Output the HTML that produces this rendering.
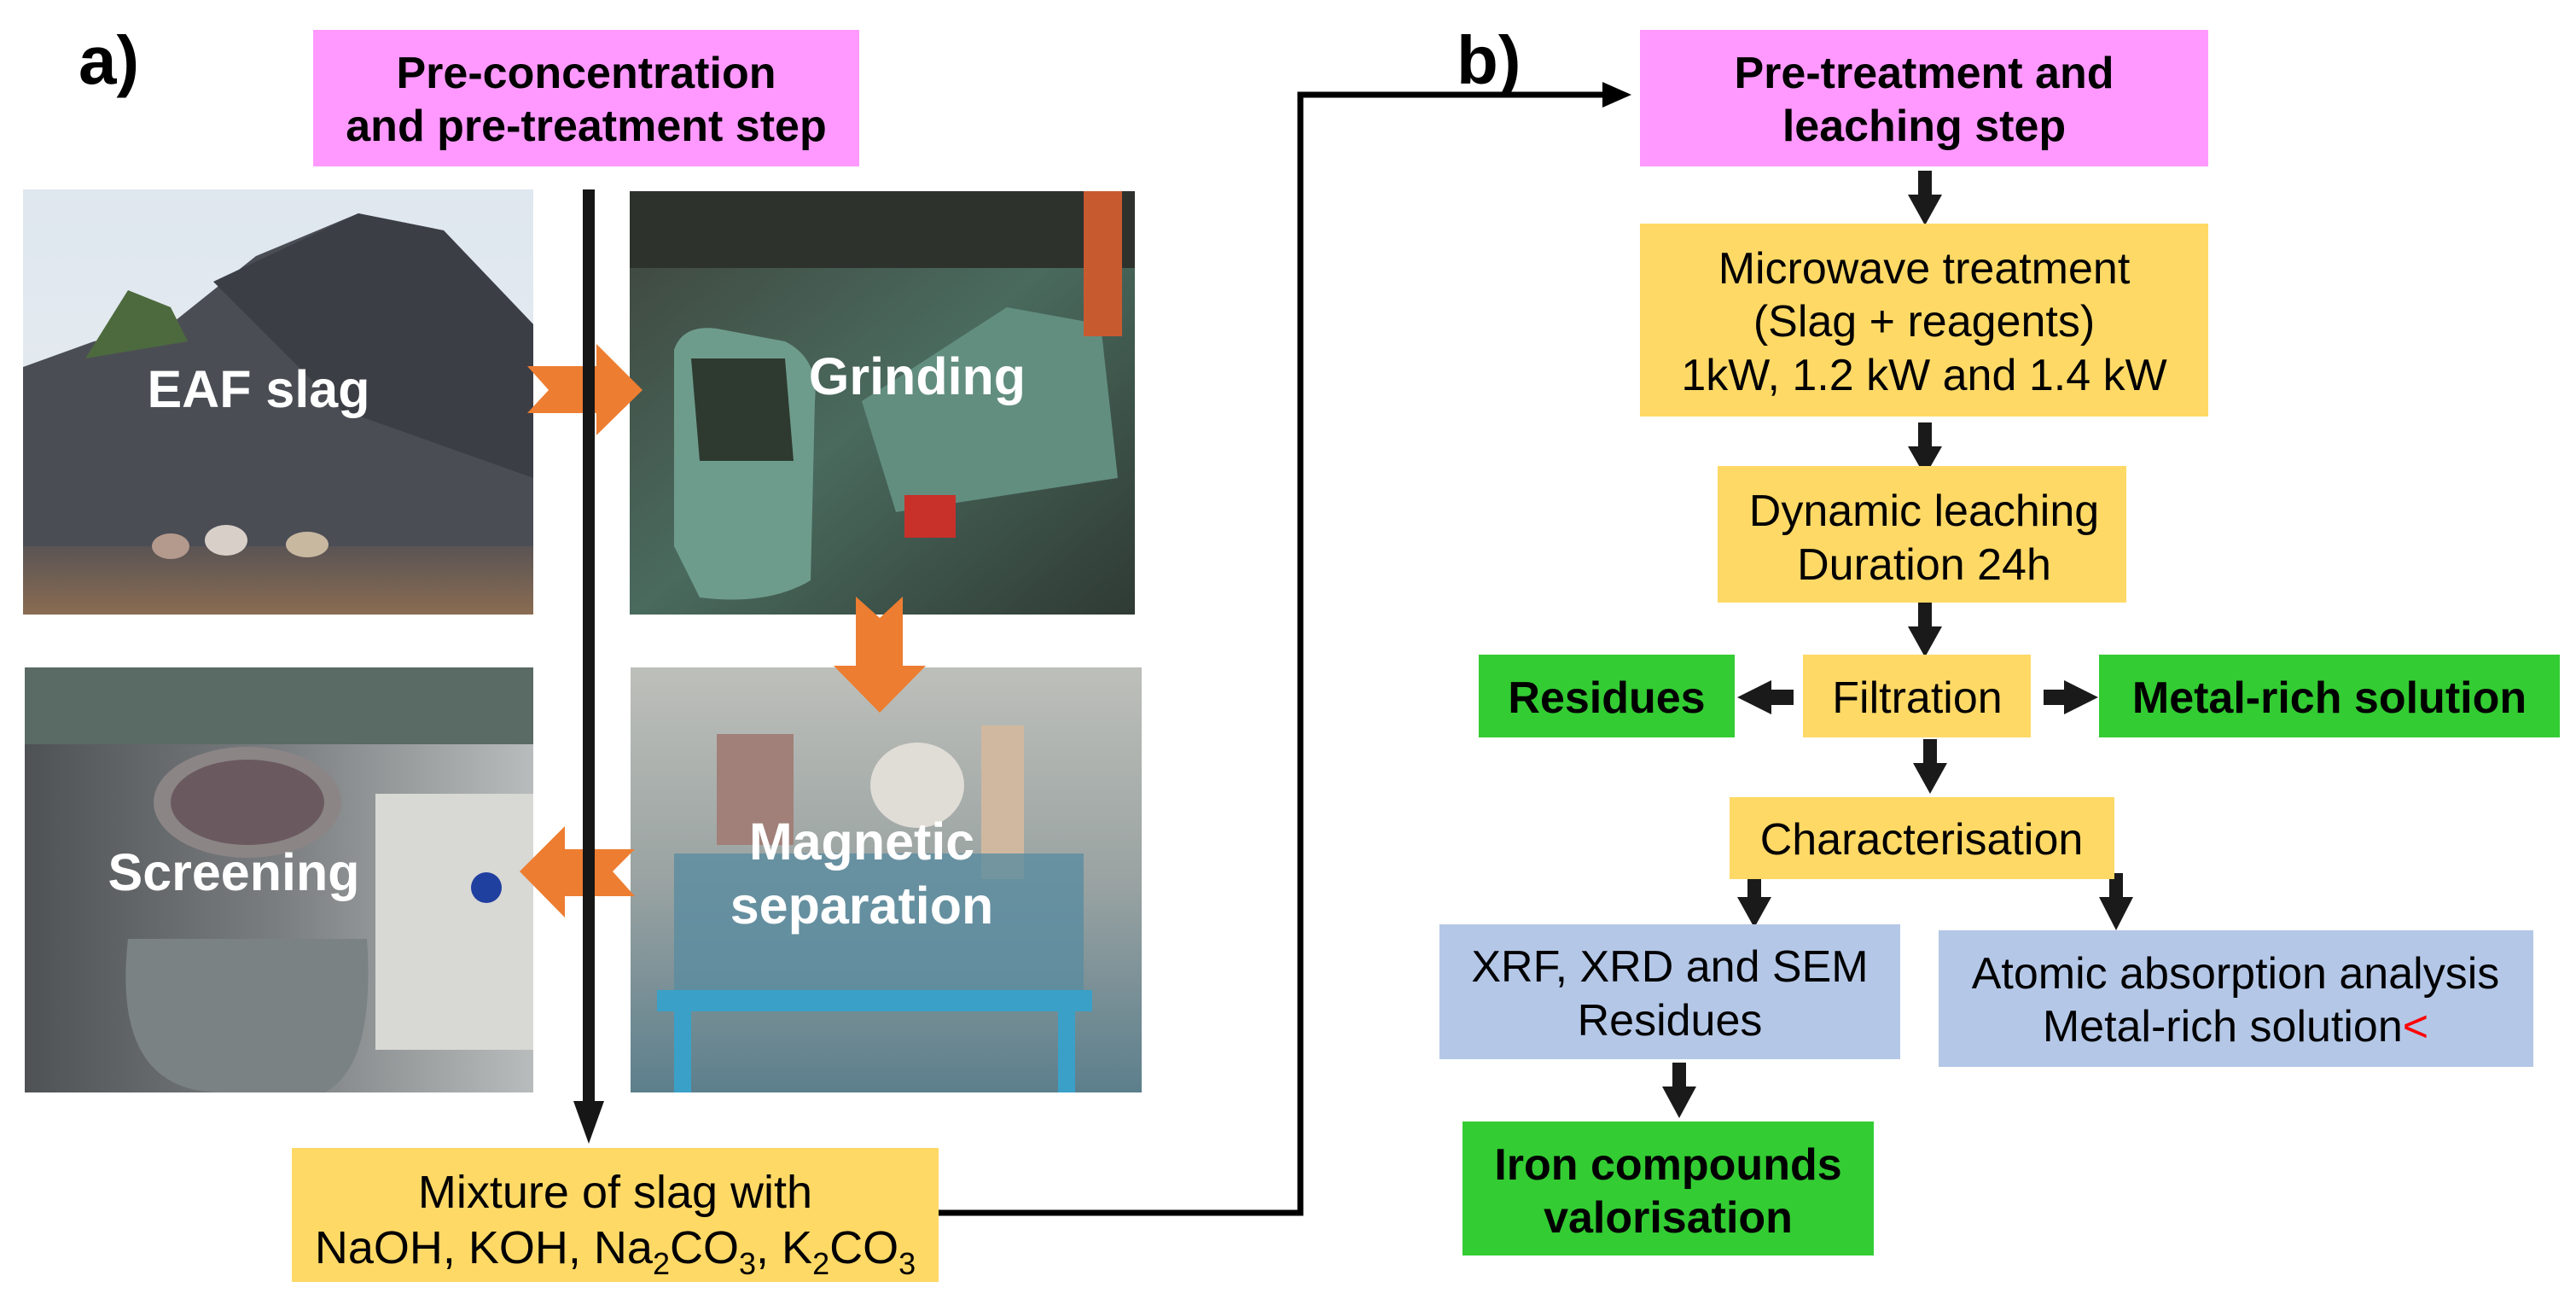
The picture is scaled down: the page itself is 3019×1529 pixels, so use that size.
<!DOCTYPE html>
<html><head><meta charset="utf-8"><style>
html,body{margin:0;padding:0;background:#fff;}
svg{display:block;}
text{font-family:"Liberation Sans",Arial,sans-serif;}
</style></head><body>
<svg width="3019" height="1529" viewBox="0 0 3019 1529" xmlns="http://www.w3.org/2000/svg">
<defs>
<linearGradient id="sky" x1="0" y1="0" x2="0" y2="1"><stop offset="0" stop-color="#dfe7ef"/><stop offset="1" stop-color="#e9edef"/></linearGradient>
<linearGradient id="gnd" x1="0" y1="0" x2="0" y2="1"><stop offset="0" stop-color="#5a5454"/><stop offset="1" stop-color="#8a6c52"/></linearGradient>
<linearGradient id="grd" x1="0" y1="0" x2="1" y2="1"><stop offset="0" stop-color="#3e443c"/><stop offset="0.5" stop-color="#4a6a5e"/><stop offset="1" stop-color="#2f3a34"/></linearGradient>
<linearGradient id="mag" x1="0" y1="0" x2="0" y2="1"><stop offset="0" stop-color="#bdbfba"/><stop offset="0.5" stop-color="#9aa3a2"/><stop offset="1" stop-color="#5c7f8c"/></linearGradient>
<linearGradient id="scr" x1="0" y1="0" x2="1" y2="0"><stop offset="0" stop-color="#4e5254"/><stop offset="0.5" stop-color="#7a7e80"/><stop offset="1" stop-color="#b8bcbc"/></linearGradient>
</defs>

<text x="92" y="98" font-size="80" font-weight="bold">a)</text>
<rect x="367" y="35" width="640" height="160" fill="#ff99ff"/>
<text x="687" y="103" font-size="52" font-weight="bold" text-anchor="middle">Pre-concentration</text>
<text x="687" y="165" font-size="52" font-weight="bold" text-anchor="middle">and pre-treatment step</text>

<rect x="27" y="222" width="598" height="498" fill="url(#sky)"/>
<path d="M27 430 L110 400 L200 380 L300 300 L420 250 L520 270 L625 380 L625 720 L27 720 Z" fill="#4b4d55"/>
<path d="M100 420 L150 340 L200 360 L220 400 Z" fill="#4d6a3e"/>
<path d="M250 330 L420 250 L520 270 L625 380 L625 560 L400 480 Z" fill="#3c3e45"/>
<rect x="27" y="640" width="598" height="80" fill="url(#gnd)"/>
<ellipse cx="200" cy="640" rx="22" ry="15" fill="#b49a8c"/>
<ellipse cx="265" cy="633" rx="25" ry="18" fill="#d8d0c8"/>
<ellipse cx="360" cy="638" rx="25" ry="15" fill="#c8b8a0"/>
<text x="303" y="477" font-size="61" font-weight="bold" fill="#fff" text-anchor="middle">EAF slag</text>

<rect x="738" y="224" width="592" height="496" fill="url(#grd)"/>
<rect x="738" y="224" width="592" height="90" fill="#2e322c"/>
<path d="M790 410 Q800 380 840 385 L920 400 Q960 420 955 470 L950 680 Q900 710 820 700 L790 640 Z" fill="#6e9c8c"/>
<path d="M810 420 L920 420 L930 540 L820 540 Z" fill="#2e3a30"/>
<path d="M1010 470 L1180 360 L1290 380 L1310 560 L1050 600 Z" fill="#628e80"/>
<rect x="1060" y="580" width="60" height="50" fill="#c8302a"/>
<rect x="1270" y="224" width="45" height="170" fill="#c85a30"/>
<text x="1075" y="462" font-size="61" font-weight="bold" fill="#fff" text-anchor="middle">Grinding</text>

<rect x="29" y="782" width="596" height="498" fill="url(#scr)"/>
<rect x="29" y="782" width="596" height="90" fill="#5a6a64"/>
<path d="M150 1100 Q130 1280 260 1280 L380 1280 Q440 1250 430 1100 Z" fill="#7a8284"/>
<ellipse cx="290" cy="940" rx="110" ry="65" fill="#8b8586"/>
<ellipse cx="290" cy="940" rx="90" ry="50" fill="#6a5a60"/>
<rect x="440" y="930" width="185" height="300" fill="#d8d8d4"/>
<circle cx="570" cy="1040" r="18" fill="#2040a0"/>
<text x="274" y="1043" font-size="61" font-weight="bold" fill="#fff" text-anchor="middle">Screening</text>

<rect x="739" y="782" width="599" height="498" fill="url(#mag)"/>
<rect x="840" y="860" width="90" height="130" fill="#a08078"/>
<ellipse cx="1075" cy="920" rx="55" ry="50" fill="#e0dcd6"/>
<rect x="1150" y="850" width="50" height="180" fill="#d0b8a0"/>
<rect x="790" y="1000" width="480" height="160" fill="#5a8ca0" opacity="0.8"/>
<rect x="770" y="1160" width="510" height="25" fill="#3aa0c8"/>
<rect x="790" y="1185" width="20" height="95" fill="#3aa0c8"/>
<rect x="1240" y="1185" width="20" height="95" fill="#3aa0c8"/>
<text x="1010" y="1007" font-size="61" font-weight="bold" fill="#fff" text-anchor="middle">Magnetic</text>
<text x="1010" y="1082" font-size="61" font-weight="bold" fill="#fff" text-anchor="middle">separation</text>

<polygon points="618,429 699,429 699,403 753,457 699,510 699,484 618,484 643,457" fill="#ed7d31"/>
<polygon points="1003,699 1031,724 1058,699 1058,780 1085,780 1031,835 977,780 1003,780" fill="#ed7d31"/>
<polygon points="744,995 662,995 662,968 609,1021 662,1075 662,1050 744,1050 718,1021" fill="#ed7d31"/>

<rect x="683" y="222" width="14" height="1080" fill="#161616"/>
<polygon points="672,1290 708,1290 690,1340" fill="#161616"/>

<rect x="342" y="1345" width="758" height="157" fill="#ffd966"/>
<text x="721" y="1415" font-size="54" text-anchor="middle">Mixture of  slag with</text>
<text x="721" y="1480" font-size="54" text-anchor="middle">NaOH, KOH, Na<tspan font-size="36" dy="13">2</tspan><tspan dy="-13">CO</tspan><tspan font-size="36" dy="13">3</tspan><tspan dy="-13">, K</tspan><tspan font-size="36" dy="13">2</tspan><tspan dy="-13">CO</tspan><tspan font-size="36" dy="13">3</tspan></text>

<polyline points="1100,1421 1524,1421 1524,111 1880,111" fill="none" stroke="#000" stroke-width="7"/>
<polygon points="1878,96 1912,111 1878,126" fill="#000"/>

<text x="1707" y="98" font-size="80" font-weight="bold">b)</text>
<rect x="1922" y="35" width="666" height="160" fill="#ff99ff"/>
<text x="2255" y="103" font-size="52" font-weight="bold" text-anchor="middle">Pre-treatment and</text>
<text x="2255" y="165" font-size="52" font-weight="bold" text-anchor="middle">leaching step</text>

<g fill="#1a1a1a">
<rect x="2248" y="200" width="16" height="30"/><polygon points="2236,228 2276,228 2256,264"/>
<rect x="2248" y="495" width="16" height="30"/><polygon points="2236,523 2276,523 2256,558"/>
<rect x="2248" y="706" width="16" height="30"/><polygon points="2236,734 2276,734 2256,770"/>
<rect x="2254" y="866" width="16" height="30"/><polygon points="2242,894 2282,894 2262,930"/>
<rect x="2048" y="1023" width="16" height="30"/><polygon points="2036,1051 2076,1051 2056,1087"/>
<rect x="2472" y="1023" width="16" height="30"/><polygon points="2460,1051 2500,1051 2480,1090"/>
<rect x="1960" y="1245" width="16" height="30"/><polygon points="1948,1273 1988,1273 1968,1310"/>
<rect x="2074" y="808" width="28" height="18"/><polygon points="2076,797 2076,837 2036,817"/>
<rect x="2395" y="808" width="30" height="18"/><polygon points="2419,797 2419,837 2459,817"/>
</g>

<rect x="1922" y="262" width="666" height="226" fill="#ffd966"/>
<text x="2255" y="332" font-size="52" text-anchor="middle">Microwave treatment</text>
<text x="2255" y="394" font-size="52" text-anchor="middle">(Slag + reagents)</text>
<text x="2255" y="457" font-size="52" text-anchor="middle">1kW, 1.2 kW and 1.4 kW</text>

<rect x="2013" y="546" width="479" height="160" fill="#ffd966"/>
<text x="2255" y="616" font-size="52" text-anchor="middle">Dynamic leaching</text>
<text x="2255" y="679" font-size="52" text-anchor="middle">Duration 24h</text>

<rect x="1733" y="767" width="300" height="97" fill="#33cc33"/>
<text x="1883" y="835" font-size="52" font-weight="bold" text-anchor="middle">Residues</text>
<rect x="2113" y="767" width="267" height="97" fill="#ffd966"/>
<text x="2247" y="835" font-size="52" text-anchor="middle">Filtration</text>
<rect x="2460" y="767" width="540" height="97" fill="#33cc33"/>
<text x="2730" y="835" font-size="52" font-weight="bold" text-anchor="middle">Metal-rich solution</text>

<rect x="2027" y="934" width="451" height="96" fill="#ffd966"/>
<text x="2252" y="1001" font-size="52" text-anchor="middle">Characterisation</text>

<rect x="1687" y="1083" width="540" height="158" fill="#b4c7e7"/>
<text x="1957" y="1150" font-size="52" text-anchor="middle">XRF, XRD and SEM</text>
<text x="1957" y="1213" font-size="52" text-anchor="middle">Residues</text>

<rect x="2272" y="1090" width="697" height="160" fill="#b4c7e7"/>
<text x="2620" y="1158" font-size="52" text-anchor="middle">Atomic absorption analysis</text>
<text x="2620" y="1220" font-size="52" text-anchor="middle">Metal-rich solution<tspan fill="#ff0000">&lt;</tspan></text>

<rect x="1714" y="1314" width="482" height="157" fill="#33cc33"/>
<text x="1955" y="1382" font-size="52" font-weight="bold" text-anchor="middle">Iron compounds</text>
<text x="1955" y="1444" font-size="52" font-weight="bold" text-anchor="middle">valorisation</text>
</svg>
</body></html>
